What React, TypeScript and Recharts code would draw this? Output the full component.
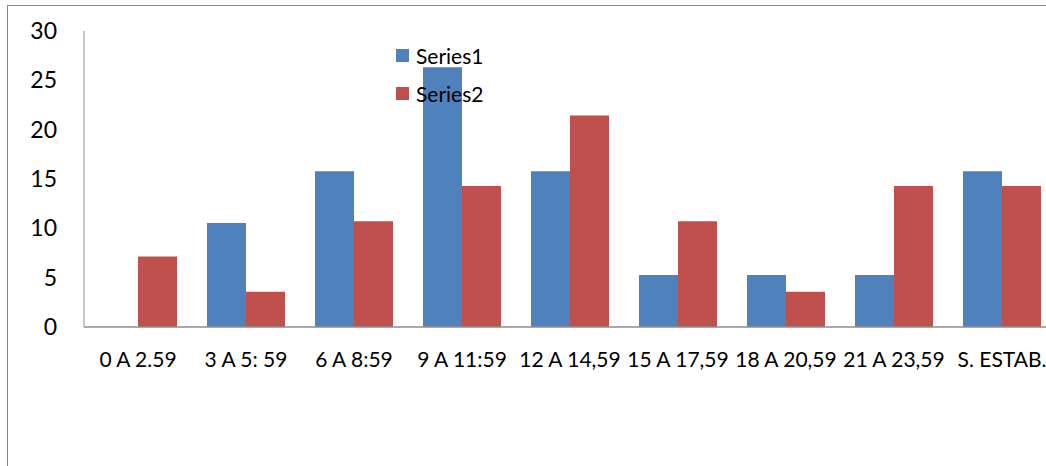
import React from 'react';
import {BarChart, Bar, XAxis, YAxis, Legend} from 'recharts';

const categories = ['0 A 2.59', '3 A 5: 59', '6 A 8:59', '9 A 11:59', '12 A 14,59', '15 A 17,59', '18 A 20,59', '21 A 23,59', 'S. ESTAB.'];
const series1 = [0, 10.53, 15.79, 26.32, 15.79, 5.26, 5.26, 5.26, 15.79];
const series2 = [7.14, 3.57, 10.71, 14.29, 21.43, 10.71, 3.57, 14.29, 14.29];
const yTicks = [0, 5, 10, 15, 20, 25, 30];

const data = categories.map((name, i) => ({
    name: name,
    Series1: series1[i],
    Series2: series2[i],
}));

const FONT = 'Lato, "Open Sans", sans-serif';

const LegendBox = (props: any) => {
    const items = props.payload || [];
    return (
        <div style={{fontFamily: FONT, fontSize: 21, color: '#000'}}>
            {items.map((it: any) => (
                <div key={it.value} style={{display: 'flex', alignItems: 'center', height: 38}}>
                    <span style={{width: 13, height: 13, background: it.color, marginRight: 7, display: 'inline-block'}}/>
                    <span>{it.value}</span>
                </div>
            ))}
        </div>
    );
};

const App = () => {
    return (
        <div style={{position: 'fixed', left: 0, top: 0, width: 1046, height: 466, overflow: 'hidden', background: '#fff'}}>
            <div style={{position: 'absolute', left: 7, top: 5, width: 1100, height: 500, border: '1px solid #878787', boxSizing: 'border-box'}}/>
            <div style={{position: 'absolute', left: 0, top: 0}}>
                <BarChart width={1100} height={466} data={data}
                          margin={{top: 31, right: 44, left: 0, bottom: 109}}
                          barCategoryGap={15} barGap={0}
                >
                    <XAxis dataKey="name" interval={0} height={30}
                           tickLine={false} tickSize={0} tickMargin={25}
                           axisLine={{stroke: '#8e8e8e', strokeWidth: 1.5}}
                           tick={{fill: '#000', fontSize: 21, fontFamily: FONT}}/>
                    <YAxis type="number" domain={[0, 30]} ticks={yTicks} width={84}
                           tickLine={false} tickSize={0} tickMargin={27}
                           axisLine={{stroke: '#b5b5b5', strokeWidth: 1.5}}
                           tick={{fill: '#000', fontSize: 23, fontFamily: FONT}}/>
                    <Legend layout="vertical" align="center" verticalAlign="middle"
                            content={LegendBox}
                            wrapperStyle={{position: 'absolute', left: 396, top: 36, width: 'auto', height: 'auto'}}/>
                    <Bar dataKey="Series1" fill="#4F81BD" isAnimationActive={false}/>
                    <Bar dataKey="Series2" fill="#C0504D" isAnimationActive={false}/>
                </BarChart>
            </div>
        </div>
    );
};

export default App;
